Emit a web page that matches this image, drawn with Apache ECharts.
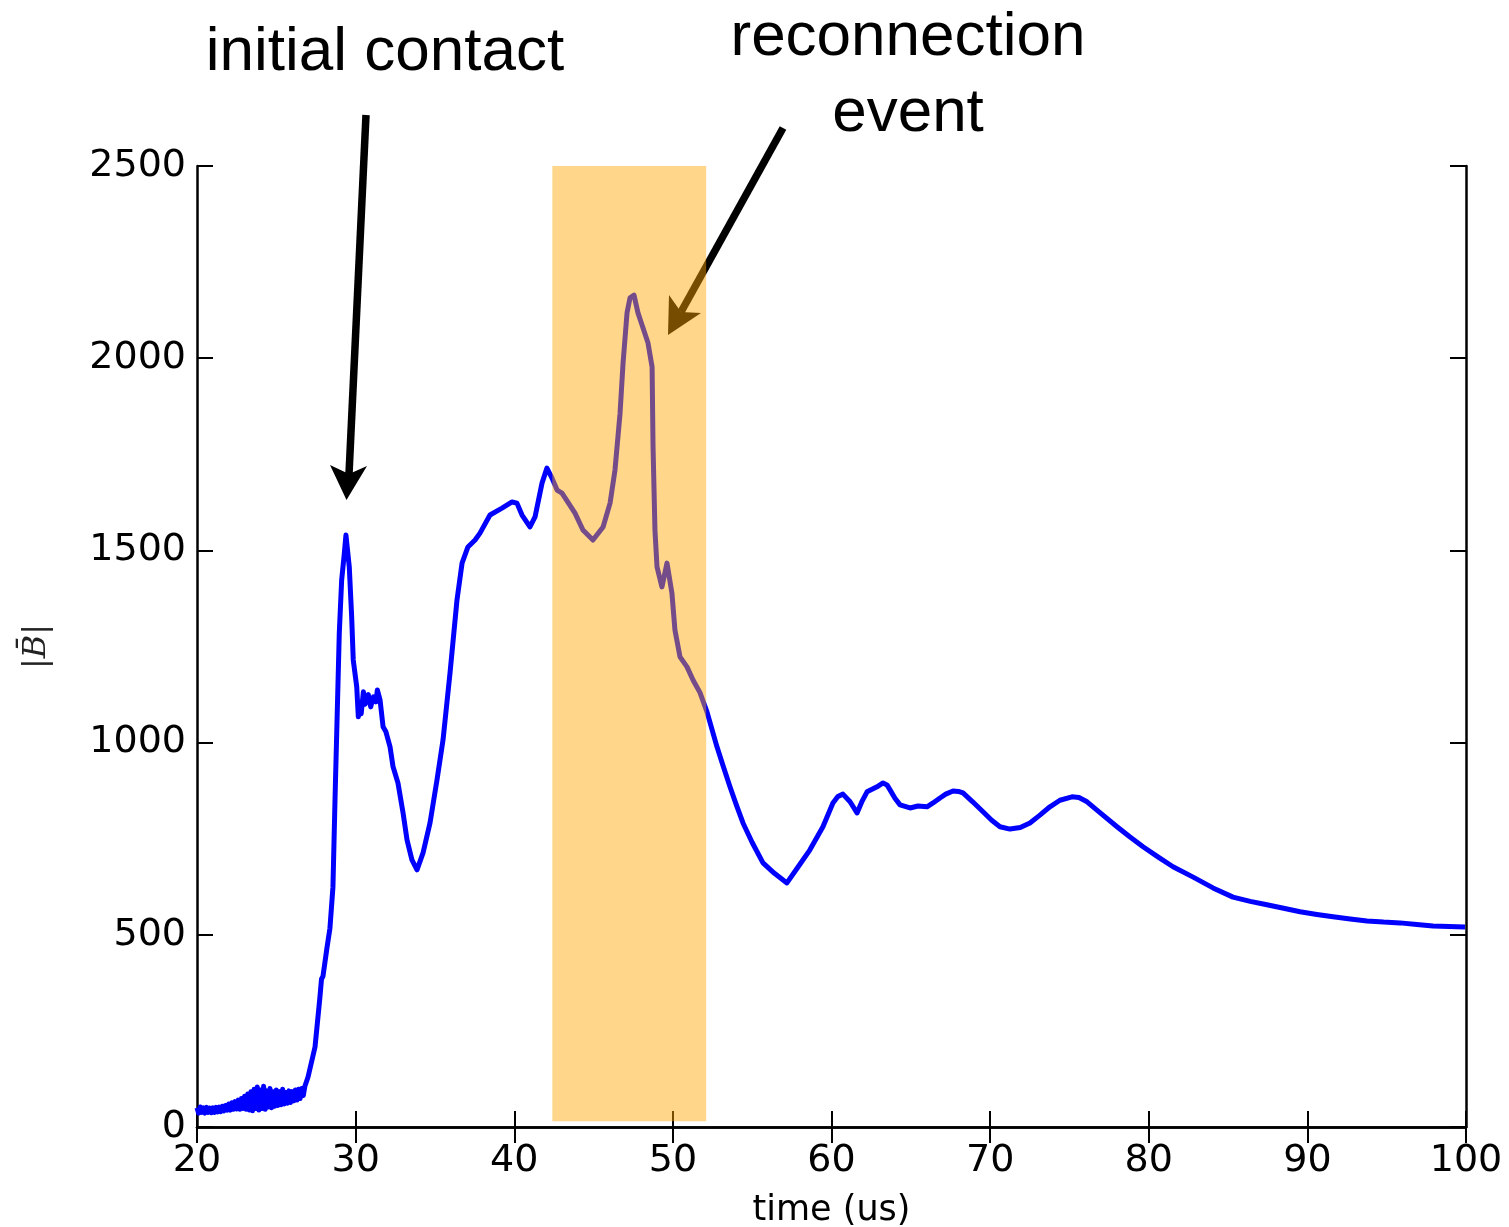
<!DOCTYPE html>
<html>
<head>
<meta charset="utf-8">
<script src="https://cdn.jsdelivr.net/npm/echarts@6/dist/echarts.min.js"></script>
<style>
  html, body { margin: 0; padding: 0; background: #fff; }
  #main { width: 1509px; height: 1227px; }
</style>
</head>
<body>
<div id="main"></div>
<script>
// time axis (us) and field magnitude
var times = [
  20.0, 20.1, 20.2, 20.3, 20.4, 20.5, 20.6, 20.7, 20.8, 20.9,
  21.0, 21.1, 21.2, 21.3, 21.4, 21.5, 21.6, 21.7, 21.8, 21.9,
  22.0, 22.1, 22.2, 22.3, 22.4, 22.5, 22.6, 22.7, 22.8, 22.9,
  23.0, 23.1, 23.2, 23.3, 23.4, 23.5, 23.6, 23.7, 23.8, 23.9,
  24.0, 24.1, 24.2, 24.3, 24.4, 24.5, 24.6, 24.7, 24.8, 24.9,
  25.0, 25.1, 25.2, 25.3, 25.4, 25.5, 25.6, 25.7, 25.8, 25.9,
  26.0, 26.1, 26.2, 26.3, 26.4, 26.5, 26.6, 26.7, 26.8, 26.9,
  27.0, 27.44, 27.75, 27.85, 27.94, 28.2, 28.38, 28.57, 28.7, 28.97,
  29.12, 29.29, 29.39, 29.6, 29.75, 29.85, 30.07, 30.17, 30.28, 30.35,
  30.49, 30.6, 30.7, 30.8, 30.95, 31.12, 31.28, 31.37, 31.54, 31.73,
  31.91, 32.17, 32.36, 32.67, 32.99, 33.24, 33.55, 33.87, 34.25, 34.69,
  35.13, 35.51, 35.95, 36.39, 36.71, 37.08, 37.53, 37.84, 38.47, 39.23,
  39.86, 40.17, 40.49, 40.99, 41.31, 41.75, 42.06, 42.38, 42.70, 43.01,
  43.83, 44.33, 44.96, 45.6, 46.04, 46.35, 46.67, 46.86, 47.11, 47.3,
  47.55, 47.8, 48.05, 48.43, 48.69, 48.75, 48.87, 49.0, 49.31, 49.63,
  49.94, 50.13, 50.45, 50.89, 51.27, 51.71,
  52.15, 52.78, 53.2, 53.6, 54.0, 54.42, 55.0, 55.68, 56.4, 57.19,
  57.9, 58.64, 59.46, 60.09, 60.4, 60.72, 61.17, 61.61, 61.9, 62.24,
  62.87, 63.25, 63.5, 63.69, 64.0, 64.32, 64.95, 65.45, 66.02, 66.4,
  66.84, 67.2, 67.66, 68.0, 68.29, 68.9, 69.55, 70.1, 70.62, 71.25,
  71.9, 72.51, 73.1, 73.77, 74.4, 75.16, 75.6, 76.11, 77.0, 78.0,
  78.8, 79.64, 80.6, 81.53, 82.8, 84.05, 85.31, 86.4, 87.45, 88.5,
  89.54, 90.6, 91.62, 92.7, 93.76, 94.8, 95.84, 96.9, 97.92, 99.94
];
var bMag = [
  50, 36, 52, 38, 50, 36, 51, 38, 49, 37,
  50, 38, 51, 39, 52, 40, 54, 42, 56, 44,
  60, 44, 63, 46, 66, 47, 70, 46, 74, 48,
  80, 46, 86, 44, 92, 42, 98, 48, 104, 44,
  96, 48, 106, 46, 94, 52, 100, 50, 92, 54,
  96, 56, 92, 58, 98, 60, 90, 62, 94, 64,
  92, 68, 96, 70, 98, 74, 100, 82, 106, 108,
  130, 208, 338, 385, 392, 468, 517, 624, 851, 1285,
  1423, 1493, 1540, 1457, 1328, 1215, 1145, 1067, 1093, 1075,
  1132, 1100, 1111, 1125, 1093, 1119, 1106, 1137, 1111, 1041,
  1028, 989, 937, 895, 817, 747, 695, 669, 713, 791,
  903, 1007, 1181, 1371, 1467, 1509, 1527, 1545, 1592, 1610,
  1626, 1623, 1592, 1561, 1587, 1675, 1714, 1688, 1657, 1649,
  1597, 1553, 1527, 1561, 1623, 1709, 1857, 1988, 2118, 2157,
  2164, 2118, 2087, 2040, 1977, 1769, 1553, 1457, 1405, 1467,
  1389, 1293, 1223, 1197, 1163, 1130,
  1080, 989, 935, 885, 838, 791, 740, 687, 660, 635,
  677, 721, 781, 843, 860, 866, 846, 817, 845, 872,
  885, 895, 890, 877, 855, 838, 830, 835, 833, 843,
  856, 866, 874, 873, 869, 846, 820, 798, 781, 775,
  779, 791, 810, 833, 850, 859, 857, 846, 815, 781,
  755, 729, 702, 677, 650, 622, 598, 587, 578, 569,
  560, 553, 547, 541, 536, 533, 531, 527, 523, 520
];
// reconnection window (us)
var eventSpan = [42.4, 52.1];
var xTicks = [20, 30, 40, 50, 60, 70, 80, 90, 100];
var yTicks = [0, 500, 1000, 1500, 2000, 2500];

var chart = echarts.init(document.getElementById('main'));

var tickFont = { color: '#000', fontSize: 38, fontFamily: 'DejaVu Sans', formatter: function (v) { return String(v); } };

function frameAxis(extra) {
  return Object.assign({
    type: 'value',
    axisLine: { show: true, lineStyle: { color: '#000', width: 2.5 } },
    axisTick: { show: true, inside: true, length: 16, lineStyle: { color: '#000', width: 2 } },
    splitLine: { show: false }
  }, extra);
}

chart.setOption({
  animation: false,
  backgroundColor: '#fff',
  grid: { left: 197, right: 43, top: 166, bottom: 100, containLabel: false, outerBoundsMode: 'none' },
  xAxis: [
    frameAxis({
      position: 'bottom', min: xTicks[0], max: xTicks[xTicks.length - 1], interval: 10,
      axisLabel: Object.assign({ margin: 15 }, tickFont),
      name: 'time (us)', nameLocation: 'middle', nameGap: 66,
      nameTextStyle: { color: '#000', fontSize: 35, fontFamily: 'DejaVu Sans' }
    }),
    frameAxis({
      position: 'top', min: xTicks[0], max: xTicks[xTicks.length - 1], interval: 10,
      axisLabel: { show: false }, z: 10
    })
  ],
  yAxis: [
    frameAxis({
      position: 'left', min: yTicks[0], max: yTicks[yTicks.length - 1], interval: 500,
      axisLabel: Object.assign({ margin: 11 }, tickFont),
      name: '{n||}{b|B\u0304}{n||}', nameLocation: 'middle', nameGap: 144, nameRotate: 90,
      nameTextStyle: {
        color: '#222',
        rich: {
          n: { fontSize: 32, fontFamily: 'DejaVu Serif', color: '#222' },
          b: { fontSize: 32, fontFamily: 'DejaVu Serif', fontStyle: 'italic', color: '#222' }
        }
      }
    }),
    frameAxis({
      position: 'right', min: yTicks[0], max: yTicks[yTicks.length - 1], interval: 500,
      axisLabel: { show: false }
    })
  ],
  graphic: [
    { type: 'text', z: 1, style: { text: 'initial contact', x: 385, y: 53, align: 'center', verticalAlign: 'middle', font: '62px "Liberation Sans", Arial, sans-serif', fill: '#000' } },
    { type: 'text', z: 1, style: { text: 'reconnection', x: 908, y: 38, align: 'center', verticalAlign: 'middle', font: '62px "Liberation Sans", Arial, sans-serif', fill: '#000' } },
    { type: 'text', z: 1, style: { text: 'event', x: 908, y: 114, align: 'center', verticalAlign: 'middle', font: '62px "Liberation Sans", Arial, sans-serif', fill: '#000' } },
    // arrow to the first peak
    { type: 'line', z: 1, shape: { x1: 366, y1: 115, x2: 349, y2: 474 }, style: { stroke: '#000', lineWidth: 7.5 } },
    { type: 'polygon', z: 1, shape: { points: [[346.5, 500], [330, 465], [349, 474], [367, 466]] }, style: { fill: '#000' } },
    // arrow to the reconnection peak
    { type: 'line', z: 1, shape: { x1: 783, y1: 128, x2: 681, y2: 312 }, style: { stroke: '#000', lineWidth: 7.5 } },
    { type: 'polygon', z: 1, shape: { points: [[668, 335], [669, 295], [681, 312], [701, 313]] }, style: { fill: '#000' } }
  ],
  series: [
    {
      type: 'line',
      z: 2,
      data: times.map(function (t, i) { return [t, bMag[i]]; }),
      showSymbol: false,
      lineStyle: { color: '#0000ff', width: 5, join: 'round' },
      clip: false
    },
    {
      type: 'custom',
      z: 5,
      data: [[eventSpan[0], eventSpan[1]]],
      renderItem: function (params, api) {
        var p0 = api.coord([api.value(0), 2500]);
        var p1 = api.coord([api.value(1), 15]);
        return {
          type: 'rect',
          shape: { x: p0[0], y: p0[1], width: p1[0] - p0[0], height: p1[1] - p0[1] },
          style: { fill: 'rgba(255,165,0,0.46)' }
        };
      }
    }
  ]
});
</script>
</body>
</html>
